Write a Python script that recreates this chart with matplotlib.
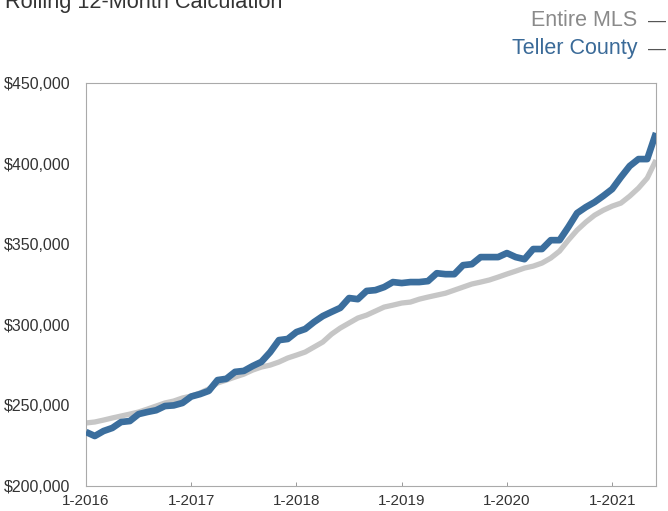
import matplotlib
matplotlib.use("Agg")
import matplotlib.pyplot as plt
from matplotlib.ticker import FuncFormatter

plt.rcParams['font.family'] = ['Liberation Sans', 'DejaVu Sans']

# Monthly rolling 12-month median sales price, 1-2016 through 6-2021
months = list(range(66))
tick_labels = ["1-2016", "1-2017", "1-2018", "1-2019", "1-2020", "1-2021"]
tick_months = [0, 12, 24, 36, 48, 60]

entire_mls = [
    239100, 239700, 240900, 242200, 243400, 244600, 245900, 247700, 249600, 251500,
    252700, 254600, 255800, 257700, 260200, 263900, 265700, 267600, 269400, 271900,
    273800, 275000, 276900, 279400, 281200, 283100, 286200, 289300, 294200, 298000,
    301100, 304200, 306000, 308500, 311000, 312200, 313500, 314100, 315900, 317200,
    318400, 319600, 321500, 323400, 325300, 326500, 327800, 329600, 331500, 333300,
    335200, 336400, 338300, 341400, 345700, 352500, 358700, 363700, 368000, 371100,
    373600, 375500, 379800, 384800, 391000, 402200,
]

teller_county = [
    233500, 231000, 234100, 236000, 239700, 240300, 244600, 245900, 247000, 249600,
    250000, 251500, 255500, 257000, 259000, 265700, 266500, 270800, 271400, 274400,
    277000, 283000, 290500, 291200, 295500, 297400, 301700, 305400, 308000, 310500,
    316600, 315900, 321000, 321500, 323400, 326500, 325900, 326500, 326500, 327100,
    332000, 331400, 331400, 337000, 337600, 342000, 342000, 342000, 344500, 342000,
    340700, 347000, 347000, 352500, 352500, 360600, 369300, 373000, 376100, 380000,
    384200, 391600, 398500, 402800, 402800, 419000,
]

blue = "#3b6e9d"
gray = "#c6c6c6"

fig = plt.figure(figsize=(6.68, 5.11), dpi=100)
ax = fig.add_axes([86 / 668, 1 - 486 / 511, (656 - 86) / 668, (486 - 83) / 511])

ax.plot(months, entire_mls, color=gray, lw=3.8, solid_capstyle='butt', zorder=2)
ax.plot(months, teller_county, color=blue, lw=4.8, solid_capstyle='butt', zorder=3)

ax.set_xlim(0, 65)
ax.set_ylim(200000, 450000)
ax.set_yticks([200000, 250000, 300000, 350000, 400000, 450000])
ax.yaxis.set_major_formatter(FuncFormatter(lambda v, p: f"${v:,.0f}"))
ax.set_xticks(tick_months)
ax.set_xticklabels(tick_labels)

ax.tick_params(axis='y', length=0, pad=11, labelsize=11.5, labelcolor='#333333')
ax.tick_params(axis='x', direction='in', length=3, width=0.7, color='#999999',
               pad=6, labelsize=11, labelcolor='#333333')

for s in ax.spines.values():
    s.set_color('#aaaaaa')
    s.set_linewidth(0.8)

fig.text(5 / 668, 1 - 8 / 511, "Rolling 12-Month Calculation", fontsize=15.7,
         color='#333333', ha='left', va='baseline')

fig.text(637 / 668, 1 - 26 / 511, "Entire MLS", fontsize=15.5, color='#8a8a8a',
         ha='right', va='baseline')
fig.text(648 / 668, 1 - 26 / 511, "\u2014", fontsize=13, color='#555555',
         ha='left', va='baseline')
fig.text(637 / 668, 1 - 54 / 511, "Teller County", fontsize=15.5, color='#3a6a98',
         ha='right', va='baseline')
fig.text(648 / 668, 1 - 54 / 511, "\u2014", fontsize=13, color='#555555',
         ha='left', va='baseline')

fig.savefig("out.png", dpi=100)
